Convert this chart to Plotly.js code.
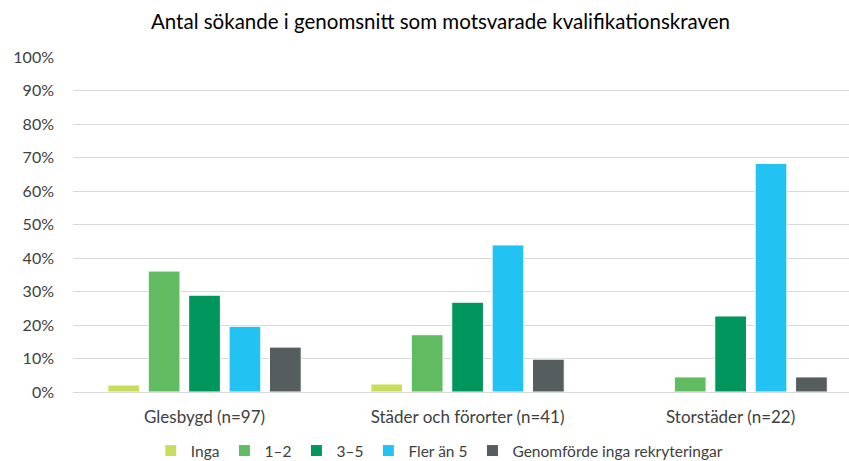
<!DOCTYPE html>
<html>
<head>
<meta charset="utf-8">
<script src="https://cdn.plot.ly/plotly-3.0.1.min.js"></script>
<style>html,body{margin:0;padding:0;background:#fff;}#chart{width:849px;height:461px;}</style>
</head>
<body>
<div id="chart"></div>
<script>
const categories = ["Glesbygd (n=97)", "Städer och förorter (n=41)", "Storstäder (n=22)"];
const seriesNames = ["Inga", "1–2", "3–5", "Fler än 5", "Genomförde inga rekryteringar"];
const inga = [0.021, 0.024, 0];
const s12 = [0.361, 0.171, 0.045];
const s35 = [0.289, 0.268, 0.227];
const fler5 = [0.196, 0.439, 0.682];
const genomforde = [0.134, 0.098, 0.045];
const colors = ["#C9DD5C", "#61BB60", "#00965E", "#22C3F2", "#565D5E"];
const yTickVals = [0, 0.1, 0.2, 0.3, 0.4, 0.5, 0.6, 0.7, 0.8, 0.9, 1.0];
const yTickText = ["0%", "10%", "20%", "30%", "40%", "50%", "60%", "70%", "80%", "90%", "100%"];

const values = [inga, s12, s35, fler5, genomforde];
const font = "Lato, 'Open Sans', sans-serif";

const traces = values.map((v, i) => ({
  type: "bar",
  name: seriesNames[i],
  x: [0, 1, 2],
  y: v,
  marker: {color: colors[i], line: {color: "#ffffff", width: 1}},
  hoverinfo: "skip"
}));

const layout = {
  width: 849,
  height: 461,
  paper_bgcolor: "#ffffff",
  plot_bgcolor: "#ffffff",
  margin: {l: 73, r: 0, t: 57, b: 69, pad: 0, autoexpand: false},
  font: {family: font, size: 14, color: "#404040"},
  title: {text: "Antal sökande i genomsnitt som motsvarade kvalifikationskraven",
          font: {family: font, size: 20.5, color: "#000000"},
          x: 0.4736, xref: "paper", xanchor: "center", y: 0.952, yanchor: "middle"},
  barmode: "group",
  bargap: 0.232,
  bargroupgap: 0.215,
  showlegend: true,
  legend: {orientation: "h", x: 0.472, xanchor: "center", xref: "paper",
           y: 0.0217, yref: "container", yanchor: "middle",
           font: {family: font, size: 15.5, color: "#404040"}, traceorder: "normal", itemwidth: 30},
  xaxis: {
    range: [-0.5, 2.45],
    tickvals: [0, 1, 2],
    ticktext: categories,
    tickfont: {family: font, size: 17, color: "#404040"},
    showgrid: false,
    showline: true,
    linecolor: "#d9d9d9",
    linewidth: 1,
    ticks: "",
    ticklabelstandoff: 10,
    automargin: false,
    fixedrange: true
  },
  yaxis: {
    range: [0, 1],
    tickvals: yTickVals,
    ticktext: yTickText,
    tickfont: {family: font, size: 16, color: "#404040"},
    showgrid: true,
    gridcolor: "#d9d9d9",
    gridwidth: 1,
    zeroline: false,
    showline: false,
    ticks: "",
    ticklabelstandoff: 18,
    automargin: false,
    fixedrange: true
  }
};

Plotly.newPlot("chart", traces, layout, {displayModeBar: false, staticPlot: true});
</script>
</body>
</html>
